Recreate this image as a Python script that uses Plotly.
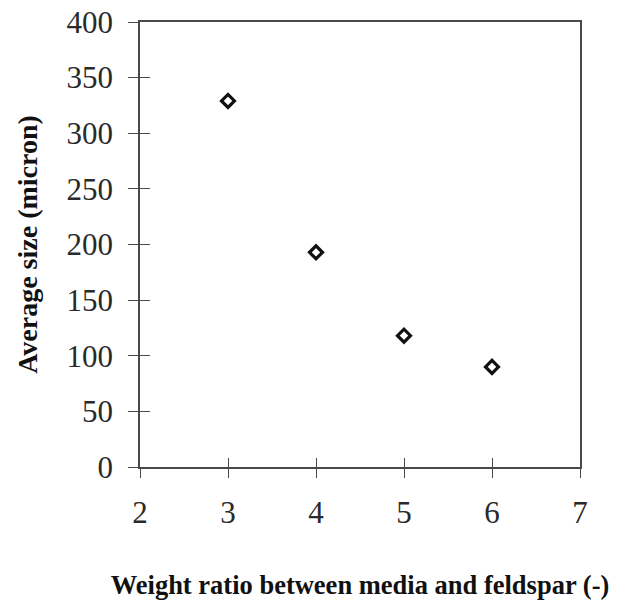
import plotly.graph_objects as go

ratio = [3, 4, 5, 6]
avg_size = [329, 193, 118, 90]
x_ticks = [2, 3, 4, 5, 6, 7]
y_ticks = [0, 50, 100, 150, 200, 250, 300, 350, 400]

axis_col = "#4a4a4a"
tick_font = dict(family="Liberation Serif, Times New Roman, serif", size=31, color="#2a2a2a")
xtitle_font = dict(family="Liberation Serif, Times New Roman, serif", size=26.5, color="#111111")
ytitle_font = dict(family="Liberation Serif, Times New Roman, serif", size=28, color="#111111")

fig = go.Figure()
fig.add_trace(go.Scatter(
    x=ratio, y=avg_size, mode="markers",
    marker=dict(symbol="diamond-open", size=10, color="#111111",
                line=dict(width=3.2, color="#111111")),
    showlegend=False,
))
# helper trace so the overlay axes (inner halves of the crossing ticks) render
fig.add_trace(go.Scatter(
    x=ratio, y=avg_size, mode="markers", xaxis="x2", yaxis="y2",
    marker=dict(opacity=0), hoverinfo="skip", showlegend=False,
))

fig.update_layout(
    width=638, height=609,
    margin=dict(l=140, r=58, t=22, b=142),
    paper_bgcolor="white", plot_bgcolor="white",
    xaxis=dict(
        range=[2, 7], tickvals=x_ticks, ticks="outside", ticklen=9, tickwidth=1.3,
        tickcolor=axis_col, showline=True, linecolor=axis_col, linewidth=1.5,
        mirror=True, showgrid=False, zeroline=False, tickfont=tick_font,
        ticklabelstandoff=8, automargin=False, ticklabeloverflow="allow",
        title=dict(text="<b>Weight ratio between media and feldspar (-)</b>",
                   font=xtitle_font, standoff=46),
    ),
    yaxis=dict(
        range=[0, 400], tickvals=y_ticks, ticks="outside", ticklen=10, tickwidth=1.3,
        tickcolor=axis_col, showline=True, linecolor=axis_col, linewidth=1.5,
        mirror=True, showgrid=False, zeroline=False, tickfont=tick_font,
        ticklabelstandoff=9, automargin=False, ticklabeloverflow="allow",
        title=dict(text="<b>Average size (micron)</b>", font=ytitle_font, standoff=21),
    ),
    xaxis2=dict(
        range=[2, 7], tickvals=x_ticks, overlaying="x", anchor="y", side="bottom",
        ticks="inside", ticklen=9, tickwidth=1.3, tickcolor=axis_col,
        showticklabels=False, showline=False, showgrid=False, zeroline=False,
        automargin=False,
    ),
    yaxis2=dict(
        range=[0, 400], tickvals=y_ticks, overlaying="y", anchor="x", side="left",
        ticks="inside", ticklen=10, tickwidth=1.3, tickcolor=axis_col,
        showticklabels=False, showline=False, showgrid=False, zeroline=False,
        automargin=False,
    ),
)

fig.write_html("out.html", config={"displayModeBar": False},
               post_script="document.body.style.margin='0';")
